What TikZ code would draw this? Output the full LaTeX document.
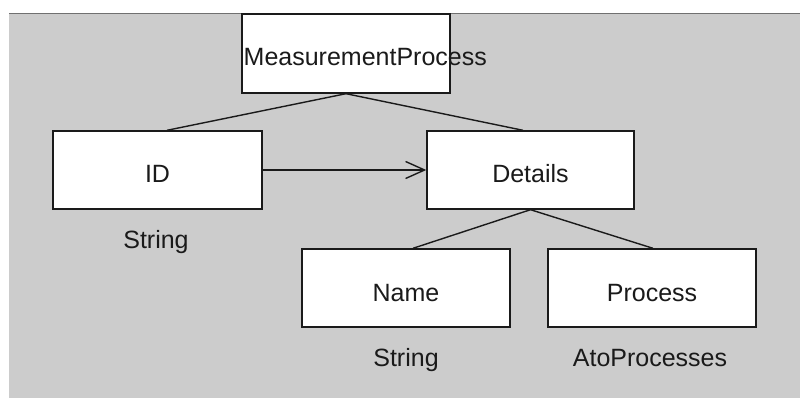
\documentclass[tikz,border=0pt]{standalone}
\usepackage{fontspec}
\setmainfont{Liberation Sans}
\usetikzlibrary{arrows.meta,calc}
\definecolor{bggray}{HTML}{CCCCCC}
\definecolor{edgegray}{HTML}{707070}
\definecolor{inkc}{HTML}{1A1A1A}
\begin{document}
\begin{tikzpicture}[x=1pt,y=-1pt,
  every node/.style={font=\fontsize{25}{30}\selectfont, text=inkc},
  entbox/.style={draw=inkc, line width=1.4pt, fill=white, minimum width=208pt, minimum height=78pt, inner sep=0pt, text height=26pt, text depth=0pt},
  typelabel/.style={anchor=base, inner sep=0pt},
  link/.style={draw=inkc, line width=1.4pt},
  refarrow/.style={draw=inkc, line width=1.4pt, -{Straight Barb[length=19pt,width=17pt,line width=1.4pt]}}
]
\useasboundingbox (0,0) rectangle (800,398);
\fill[bggray] (9,13) rectangle (800,398);
\draw[edgegray, line width=1pt] (9,13.5) -- (800,13.5);

\node[entbox, minimum height=79pt] (mp) at (346,53.5) {};
\node[anchor=base west, inner sep=0pt] (mpt) at (243.5,66) {MeasurementProcess};

\node[entbox, minimum width=209pt] (id) at (157.5,170) {ID};
\node[entbox, minimum width=207pt] (det) at (530.5,170) {Details};
\node[entbox] (name) at (406,288) {Name};
\node[entbox] (proc) at (652,288) {Process};

\node[typelabel] (idt) at (156,248) {String};
\node[typelabel] (namet) at (406,366) {String};
\node[typelabel] (proct) at (650,366) {AtoProcesses};

\draw[link] (mp.south) -- ($(id.north)+(9.5,0)$);
\draw[link] (mp.south) -- ($(det.north)+(-7.5,0)$);
\draw[link] (det.south) -- ($(name.north)+(7,0)$);
\draw[link] (det.south) -- ($(proc.north)+(1,0)$);
\draw[refarrow] (id.east) -- (det.west);
\end{tikzpicture}
\end{document}
